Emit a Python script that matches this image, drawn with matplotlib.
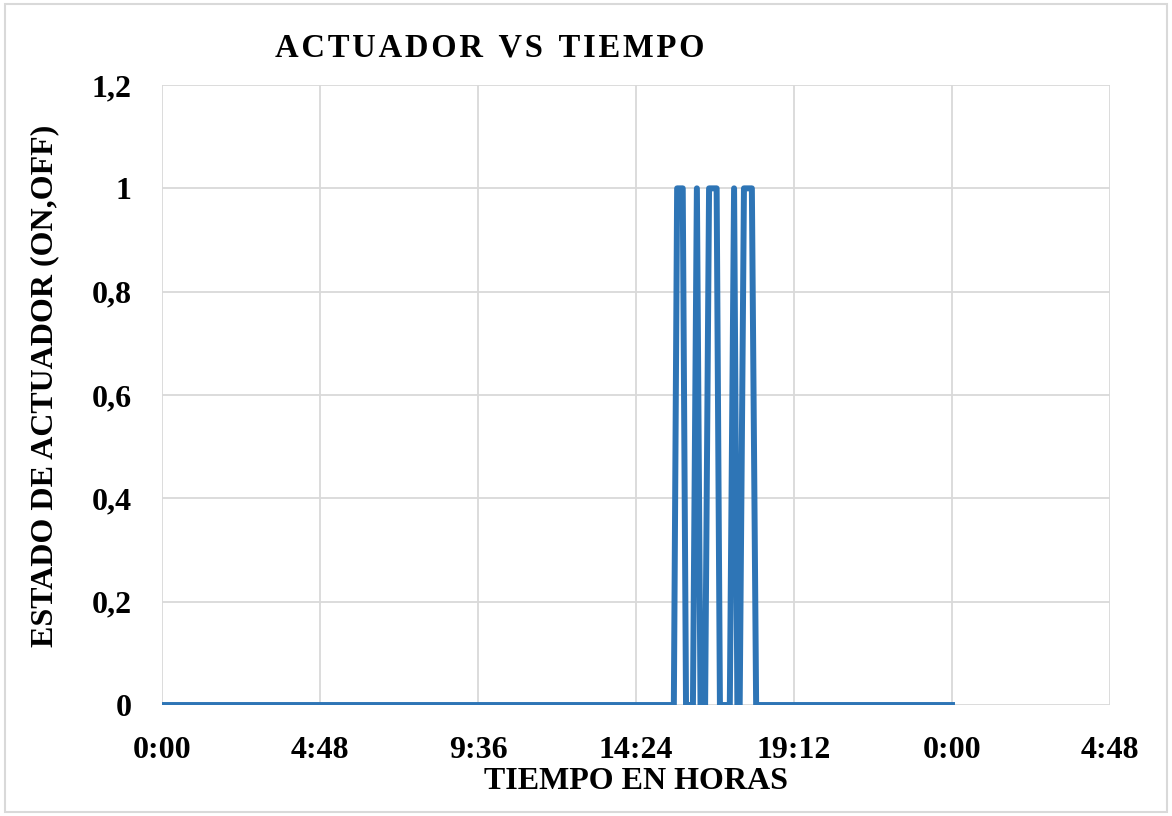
import matplotlib.pyplot as plt
from matplotlib.ticker import FuncFormatter, MultipleLocator
from matplotlib.patches import Rectangle

# actuator state (time in hours, state 0/1)
time_h = [0.0, 15.55, 15.65, 15.82, 15.92, 16.10, 16.13, 16.25, 16.36,
          16.50, 16.62, 16.85, 16.95, 17.25, 17.38, 17.48, 17.55,
          17.68, 17.92, 18.05, 24.0]
state = [0, 0, 1, 1, 0, 0, 0, 1, 0,
         0, 1, 1, 0, 0, 1, 0, 0,
         1, 1, 0, 0]

title = "ACTUADOR VS TIEMPO"
xlabel = "TIEMPO EN HORAS"
ylabel = "ESTADO DE ACTUADOR (ON,OFF)"

plt.rcParams['font.family'] = ['Liberation Serif', 'DejaVu Serif']
plt.rcParams['font.weight'] = 'bold'

fig = plt.figure(figsize=(11.72, 8.16), dpi=100)
ax = fig.add_axes([0.1382, 0.136, 0.8089, 0.7598])

days = [t / 24 for t in time_h]
ax.plot(days, state, color='#2E75B6', linewidth=4.3, solid_joinstyle='round')

ax.set_xlim(0, 1.2)
ax.set_ylim(0, 1.2)
ax.xaxis.set_major_locator(MultipleLocator(0.2))
ax.yaxis.set_major_locator(MultipleLocator(0.2))


def fmt_time(x, pos):
    mins = int(round(x * 24 * 60)) % (24 * 60)
    return f"{mins // 60}:{mins % 60:02d}"


def fmt_num(y, pos):
    y = round(y, 1)
    if y == int(y):
        return str(int(y))
    return f"{y:.1f}".replace('.', ',')


ax.xaxis.set_major_formatter(FuncFormatter(fmt_time))
ax.yaxis.set_major_formatter(FuncFormatter(fmt_num))
ax.tick_params(length=0, labelsize=23, pad=22)
for lab in ax.get_xticklabels() + ax.get_yticklabels():
    lab.set_fontweight('bold')

ax.grid(True, color='#D9D9D9', linewidth=1.3)
ax.set_axisbelow(True)
for s in ax.spines.values():
    s.set_visible(False)

ax.set_xlabel(xlabel, fontsize=23, fontweight='bold', labelpad=2)
ax.set_ylabel(ylabel, fontsize=23, fontweight='bold')
ax.yaxis.set_label_coords(-0.108, 0.515)

fig.text(0.418, 0.941, "\u200a".join(title).replace("\u200a \u200a", "  "),
         ha='center', va='center', fontsize=23.5, fontweight='bold')

fig.patches.append(Rectangle((0.004, 0.005), 0.992, 0.99, transform=fig.transFigure,
                             fill=False, edgecolor='#D9D9D9', linewidth=1.5))

fig.savefig('out.png', dpi=100)
